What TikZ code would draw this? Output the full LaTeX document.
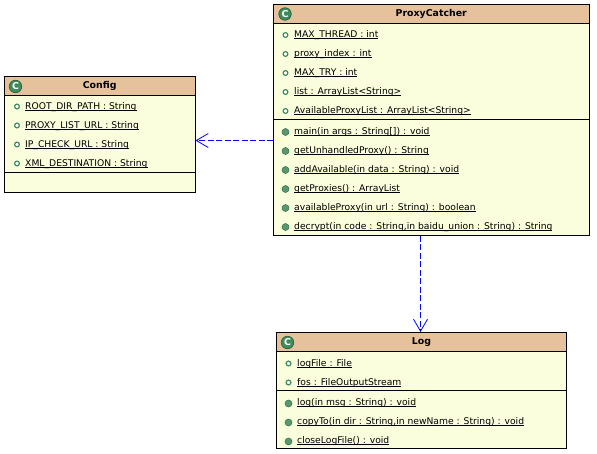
\documentclass[tikz,border=0pt]{standalone}
\usepackage{fontspec}
\setmainfont{DejaVu Sans}
\usepackage{tikz}
\usetikzlibrary{arrows.meta}
\definecolor{classhead}{RGB}{229,193,156}
\definecolor{classbody}{RGB}{250,254,220}
\definecolor{icongreen}{RGB}{62,140,92}
\definecolor{dotgreen}{RGB}{90,150,110}
\newcommand{\ultext}[1]{\setbox0\hbox{#1}\rlap{\rule[-1.6pt]{\wd0}{0.8pt}}\box0}
\begin{document}
\begin{tikzpicture}[x=1pt,y=1pt,>={Straight Barb[length=12pt,width=14pt]},
                    class body/.style={rectangle,draw,line width=0.9pt,fill=classbody,anchor=north west,inner sep=0pt},
                    class head/.style={rectangle,draw,line width=0.9pt,fill=classhead,anchor=north west,inner sep=0pt,text height=7pt,text depth=1pt,font=\fontsize{9.4}{10}\selectfont\bfseries},
                    class icon/.style={circle,draw=icongreen!70!black,line width=0.7pt,fill=icongreen,text=white,inner sep=0pt,minimum size=12.5pt,font=\fontsize{9.5}{10}\selectfont\bfseries},
                    attr dot/.style={circle,draw=icongreen,fill=white,line width=1.2pt,inner sep=0pt,minimum size=4.8pt},
                    meth dot/.style={circle,draw=icongreen!80!black,fill=dotgreen,line width=0.5pt,inner sep=0pt,minimum size=7pt},
                    member/.style={anchor=west,inner sep=0pt,text height=7pt,text depth=2pt,font=\fontsize{9.2}{11}\selectfont},
                    depends/.style={->,blue,dashed,line width=0.8pt,dash pattern=on 6pt off 2.5pt}]
\useasboundingbox (0,0) rectangle (597,-453);
\fill[white] (0,0) rectangle (597,-453);

% Config
\node[class body,minimum width=190.5pt,minimum height=115.5pt] (config) at (4,-76) {};
\node[class head,minimum width=190.5pt,minimum height=19pt] (confighead) at (4,-76) {Config};
\node[class icon] (configicon) at (15.5,-86.5) {C};
\coordinate (configline) at (4,-172);
\draw[line width=0.9pt] (configline) -- (configline -| config.east);
\node[attr dot] (c1dot) at (17,-106.5) {};
\node[member] (c1) at (25,-106.5) {\ultext{ROOT\_DIR\_PATH : String}};
\node[attr dot] (c2dot) at (17,-125.5) {};
\node[member] (c2) at (25,-125.5) {\ultext{PROXY\_LIST\_URL : String}};
\node[attr dot] (c3dot) at (17,-144.5) {};
\node[member] (c3) at (25,-144.5) {\ultext{IP\_CHECK\_URL : String}};
\node[attr dot] (c4dot) at (17,-163.5) {};
\node[member] (c4) at (25,-163.5) {\ultext{XML\_DESTINATION : String}};

% ProxyCatcher
\node[class body,minimum width=315.5pt,minimum height=231pt] (catcher) at (273,-4) {};
\node[class head,minimum width=315.5pt,minimum height=19pt] (catcherhead) at (273,-4) {ProxyCatcher};
\node[class icon] (catchericon) at (285,-14) {C};
\coordinate (catcherline) at (273,-119);
\draw[line width=0.9pt] (catcherline) -- (catcherline -| catcher.east);
\node[attr dot] (p1dot) at (285.5,-35) {};
\node[member] (p1) at (294,-35) {\ultext{MAX\_THREAD : int}};
\node[attr dot] (p2dot) at (285.5,-54) {};
\node[member] (p2) at (294,-54) {\ultext{proxy\_index : int}};
\node[attr dot] (p3dot) at (285.5,-73) {};
\node[member] (p3) at (294,-73) {\ultext{MAX\_TRY : int}};
\node[attr dot] (p4dot) at (285.5,-92) {};
\node[member] (p4) at (294,-92) {\ultext{list : ArrayList<String>}};
\node[attr dot] (p5dot) at (285.5,-111) {};
\node[member] (p5) at (294,-111) {\ultext{AvailableProxyList : ArrayList<String>}};
\node[meth dot] (m1dot) at (285.5,-132) {};
\node[member] (m1) at (294,-131.5) {\ultext{main(in args : String[]) : void}};
\node[meth dot] (m2dot) at (285.5,-151) {};
\node[member] (m2) at (294,-150.5) {\ultext{getUnhandledProxy() : String}};
\node[meth dot] (m3dot) at (285.5,-170) {};
\node[member] (m3) at (294,-169.5) {\ultext{addAvailable(in data : String) : void}};
\node[meth dot] (m4dot) at (285.5,-189) {};
\node[member] (m4) at (294,-188.5) {\ultext{getProxies() : ArrayList}};
\node[meth dot] (m5dot) at (285.5,-208) {};
\node[member] (m5) at (294,-207.5) {\ultext{availableProxy(in url : String) : boolean}};
\node[meth dot] (m6dot) at (285.5,-227) {};
\node[member] (m6) at (294,-226.5) {\ultext{decrypt(in code : String,in baidu\_union : String) : String}};

% Log
\node[class body,minimum width=290pt,minimum height=116pt] (log) at (276,-332) {};
\node[class head,minimum width=290pt,minimum height=19pt] (loghead) at (276,-332) {Log};
\node[class icon] (logicon) at (287.5,-342.5) {C};
\coordinate (logline) at (276,-390);
\draw[line width=0.9pt] (logline) -- (logline -| log.east);
\node[attr dot] (l1dot) at (288.5,-363.5) {};
\node[member] (l1) at (297,-363.5) {\ultext{logFile : File}};
\node[attr dot] (l2dot) at (288.5,-382.5) {};
\node[member] (l2) at (297,-382.5) {\ultext{fos : FileOutputStream}};
\node[meth dot] (n1dot) at (288.5,-403.5) {};
\node[member] (n1) at (297,-402.5) {\ultext{log(in msg : String) : void}};
\node[meth dot] (n2dot) at (288.5,-422.5) {};
\node[member] (n2) at (297,-421.5) {\ultext{copyTo(in dir : String,in newName : String) : void}};
\node[meth dot] (n3dot) at (288.5,-441.5) {};
\node[member] (n3) at (297,-440.5) {\ultext{closeLogFile() : void}};

% dependencies
\coordinate (tolog) at (420.5,-332);
\coordinate (toconfig) at (195.5,-140.5);
\draw[depends] (catcher.west |- toconfig) -- (toconfig);
\draw[depends] (catcher.south -| tolog) -- (tolog);
\end{tikzpicture}
\end{document}
